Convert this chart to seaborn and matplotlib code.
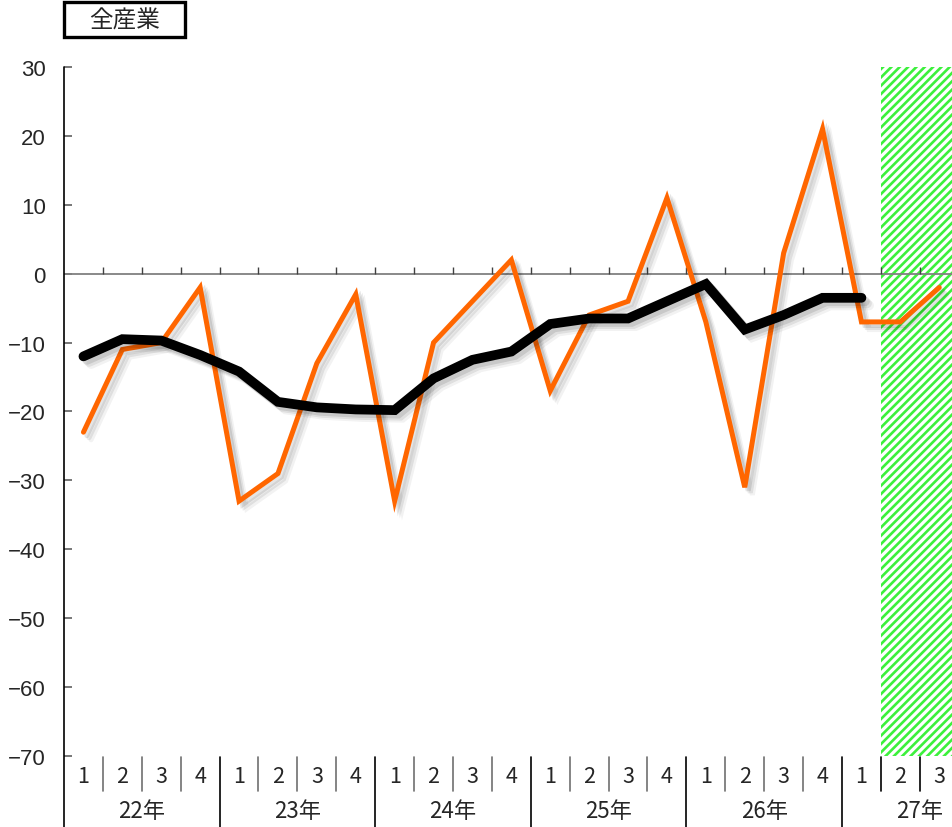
import matplotlib
matplotlib.use("Agg")
import matplotlib.pyplot as plt
import matplotlib.patheffects as pe
import matplotlib.transforms as mtransforms
from matplotlib.patches import Rectangle
import numpy as np
import pandas as pd
import seaborn as sns

# ---- data -------------------------------------------------------------
years = ["22年", "23年", "24年", "25年", "26年", "27年"]
quarters_per_year = [4, 4, 4, 4, 4, 3]
quarter_labels = ["1", "2", "3", "4"] * 5 + ["1", "2", "3"]

# quarterly value (orange)
quarterly = [-23, -11, -10, -2,
             -33, -29, -13, -3,
             -33, -10, -4, 2,
             -17, -6, -4, 11,
             -7, -31, 3, 21,
             -7, -7, -2]
# four-quarter average (black)
average = [-12.0, -9.5, -9.7, -11.8,
           -14.2, -18.6, -19.4, -19.7,
           -19.8, -15.2, -12.5, -11.3,
           -7.3, -6.5, -6.5, -4.0,
           -1.5, -8.1, -6.0, -3.5,
           -3.5]
forecast_start = 21          # first quarter shown as a forecast
y_ticks = [30, 20, 10, 0, -10, -20, -30, -40, -50, -60, -70]
title = "全産業"

# ---- figure ----------------------------------------------------------
sns.set_style("white")
plt.rcParams["font.family"] = ["Liberation Sans", "Noto Sans CJK JP", "DejaVu Sans"]
plt.rcParams["axes.unicode_minus"] = True
plt.rcParams["hatch.linewidth"] = 1.9

W, H = 953, 828
fig = plt.figure(figsize=(W / 100, H / 100), dpi=100)
ax_left, ax_right, ax_top, ax_bot = 64, 953, 68, 757
ax = fig.add_axes([ax_left / W, (H - ax_bot) / H,
                   (ax_right - ax_left) / W, (ax_bot - ax_top) / H])

n = len(quarterly)
x = np.arange(n)
df_q = pd.DataFrame({"x": x, "v": quarterly})
df_a = pd.DataFrame({"x": x[:len(average)], "v": average})

# forecast band
ax.axvspan(forecast_start - 0.5, n + 1, ymin=0, ymax=1, facecolor="none",
           edgecolor="#3cf03c", hatch="////", linewidth=0, zorder=0)

# zero line with category tick marks
ax.axhline(0, color="#808080", lw=1.3, zorder=1)
ax.vlines(x[:-1] + 0.5, 0, 1.0, color="#404040", lw=1.0, zorder=1)

def shadow():
    return [pe.SimpleLineShadow(offset=(2.5, -2.5), shadow_color="#000000", alpha=0.10),
            pe.SimpleLineShadow(offset=(4, -4), shadow_color="#000000", alpha=0.08),
            pe.SimpleLineShadow(offset=(5.5, -5.5), shadow_color="#000000", alpha=0.05),
            pe.Normal()]

sns.lineplot(data=df_q, x="x", y="v", ax=ax, color="#ff6600", lw=3.6,
             zorder=3, legend=False)
ax.lines[-1].set_path_effects(shadow())
ax.lines[-1].set_solid_joinstyle("miter")

sns.lineplot(data=df_a, x="x", y="v", ax=ax, color="#000000", lw=7.0,
             zorder=4, legend=False)
ax.lines[-1].set_path_effects(shadow())
ax.lines[-1].set_solid_capstyle("round")
ax.lines[-1].set_solid_joinstyle("miter")

ax.set_xlim(-0.5, -0.5 + (ax_right - ax_left) / 38.9)
ax.set_ylim(-70, 30)
ax.set_yticks(y_ticks)
ax.set_yticklabels([str(t).replace("-", "\u2212") for t in y_ticks])
ax.set_xticks([])
ax.set_xlabel("")
ax.set_ylabel("")
ax.tick_params(axis="y", direction="in", length=6, width=1.2, color="#606060",
               pad=13, labelsize=16, left=True)
for s in ["top", "right", "bottom", "left"]:
    ax.spines[s].set_visible(False)

# left axis line running down through the label area
trans = mtransforms.blended_transform_factory(ax.transData, ax.transAxes)
ax_h = ax_bot - ax_top
ax.plot([-0.5, -0.5], [1.0, -(H - ax_bot) / ax_h], color="black", lw=1.2,
        transform=trans, clip_on=False, zorder=5)

# quarter and year labels below the plot
def fy(py):
    return (ax_bot - py) / ax_h

pos = 0
for yi, (yr, nq) in enumerate(zip(years, quarters_per_year)):
    for q in range(nq):
        i = pos + q
        ax.text(i, fy(777), quarter_labels[i], transform=trans, ha="center",
                va="center", fontsize=15.5, family=["Noto Sans CJK JP"])
        if q > 0:
            ax.plot([i - 0.5, i - 0.5], [fy(758), fy(792)], transform=trans,
                    color="#707070" if i < forecast_start else "#000000",
                    lw=1.2, clip_on=False)
    if pos > 0:
        ax.plot([pos - 0.5, pos - 0.5], [fy(758), fy(H)], transform=trans,
                color="#000000", lw=1.2, clip_on=False)
    ax.text(pos + nq / 2 - 0.5 if nq == 4 else pos + 1.5, fy(812), yr,
            transform=trans, ha="center", va="center", fontsize=16,
            family=["Noto Sans CJK JP"])
    pos += nq

# title box
fig.patches.append(Rectangle((64 / W, (H - 38) / H), 121 / W, 35 / H,
                             transform=fig.transFigure, facecolor="white",
                             edgecolor="black", lw=2.4))
fig.text(124.5 / W, (H - 21) / H, title, ha="center", va="center",
         fontsize=17, family=["Noto Sans CJK JP"])

fig.savefig("out.png", dpi=100)
